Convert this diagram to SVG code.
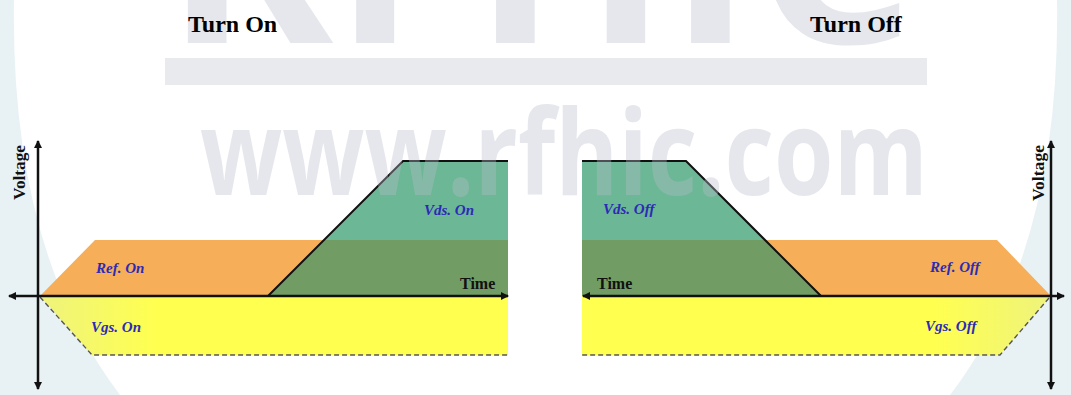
<svg xmlns="http://www.w3.org/2000/svg" width="1071" height="395" viewBox="0 0 1071 395">
<style>
.title{font-family:"Liberation Serif",serif;font-weight:bold;font-size:24px;fill:#000}
.lbl{font-family:"Liberation Serif",serif;font-weight:bold;font-style:italic;font-size:15px;fill:#2B2BB5}
.ax{font-family:"Liberation Serif",serif;font-weight:bold;font-size:16px;fill:#111}
.axis{stroke:#111;stroke-width:2.5;fill:none}
.edge{stroke:#111;stroke-width:2;fill:none}
.dash{stroke:#555;stroke-width:1.4;stroke-dasharray:5 3;fill:none}
.wm{font-family:"Open Sans","DejaVu Sans",sans-serif;font-weight:bold;fill:#B9BECC;opacity:0.36}
</style>
<defs>
<marker id="ah" markerWidth="8" markerHeight="8" refX="7" refY="4" orient="auto" markerUnits="userSpaceOnUse">
<path d="M0,0 L8,4 L0,8 Z" fill="#111"/>
</marker>
<linearGradient id="yl" x1="0" y1="0" x2="1" y2="0">
<stop offset="0" stop-color="#EEF37C"/><stop offset="0.25" stop-color="#FFFF50"/><stop offset="1" stop-color="#FFFF50"/>
</linearGradient>
<linearGradient id="yr" x1="1" y1="0" x2="0" y2="0">
<stop offset="0" stop-color="#EEF37C"/><stop offset="0.25" stop-color="#FFFF50"/><stop offset="1" stop-color="#FFFF50"/>
</linearGradient>
</defs>
<rect width="1071" height="395" fill="#fff"/>
<g id="background-tint">
<path d="M0,0 L14,0 Q10,250 120,395 L0,395 Z" fill="#E8F2F5"/>
<path d="M1071,0 L1057,0 Q1061,250 950,395 L1071,395 Z" fill="#E8F2F5"/>
</g>
<g id="turn-on">
<g id="ref-on"><polygon points="40,296 95,240 508,240 508,296" fill="#F6AE59"/><text class="lbl" x="96" y="273">Ref. On</text></g>
<g id="vgs-on"><polygon points="40,296 508,296 508,355 92,355" fill="url(#yl)"/><path class="dash" d="M40,297 L92,355 L508,355"/><text class="lbl" x="91" y="332">Vgs. On</text></g>
<g id="vds-on">
<polygon points="268,296 403,161 508,161 508,296" fill="#6CB795"/>
<polygon points="268,296 324,240 508,240 508,296" fill="#719C63"/>
<path class="edge" d="M268,296 L403,161 L508,161"/>
<text class="lbl" x="424" y="215">Vds. On</text></g>
</g>
<g id="turn-off">
<g id="ref-off"><polygon points="582,240 997,240 1051,296 582,296" fill="#F6AE59"/><text class="lbl" x="930" y="272">Ref. Off</text></g>
<g id="vgs-off"><polygon points="582,296 1051,296 1000,355 582,355" fill="url(#yr)"/><path class="dash" d="M1049,298 L1000,355 L582,355"/><text class="lbl" x="925" y="331">Vgs. Off</text></g>
<g id="vds-off">
<polygon points="582,161 686,161 821,296 582,296" fill="#6CB795"/>
<polygon points="582,240 765,240 821,296 582,296" fill="#719C63"/>
<path class="edge" d="M582,161 L686,161 L821,296"/>
<text class="lbl" x="603" y="214">Vds. Off</text></g>
</g>
<g id="connectors">
<line class="axis" x1="38" y1="296" x2="38" y2="141" marker-end="url(#ah)"/>
<line class="axis" x1="38" y1="296" x2="38" y2="389" marker-end="url(#ah)"/>
<line class="axis" x1="40" y1="296" x2="9" y2="296" marker-end="url(#ah)"/>
<line class="axis" x1="40" y1="296" x2="508" y2="296" marker-end="url(#ah)"/>
<line class="axis" x1="1051" y1="296" x2="1051" y2="141" marker-end="url(#ah)"/>
<line class="axis" x1="1051" y1="296" x2="1051" y2="389" marker-end="url(#ah)"/>
<line class="axis" x1="1051" y1="296" x2="1064" y2="296" marker-end="url(#ah)"/>
<line class="axis" x1="1051" y1="296" x2="583" y2="296" marker-end="url(#ah)"/>
</g>
<g id="axis-labels">
<text class="ax" x="460" y="289">Time</text>
<text class="ax" x="597" y="289">Time</text>
<text class="ax" transform="translate(25,200) rotate(-90)" font-size="14" textLength="55" lengthAdjust="spacingAndGlyphs">Voltage</text>
<text class="ax" transform="translate(1044,201) rotate(-90)" font-size="14" textLength="56" lengthAdjust="spacingAndGlyphs">Voltage</text>
</g>
<g id="watermark">
<text class="wm" x="165" y="43" font-size="260" textLength="750" lengthAdjust="spacingAndGlyphs">RFHIC</text>
<rect x="165" y="58" width="762" height="27" fill="#B9BECC" opacity="0.33"/>
<text class="wm" x="200" y="195" font-size="118" textLength="728" lengthAdjust="spacingAndGlyphs">www.rfhic.com</text>
</g>
<g id="titles">
<text class="title" x="188" y="32">Turn On</text>
<text class="title" x="810" y="32">Turn Off</text>
</g>
</svg>
